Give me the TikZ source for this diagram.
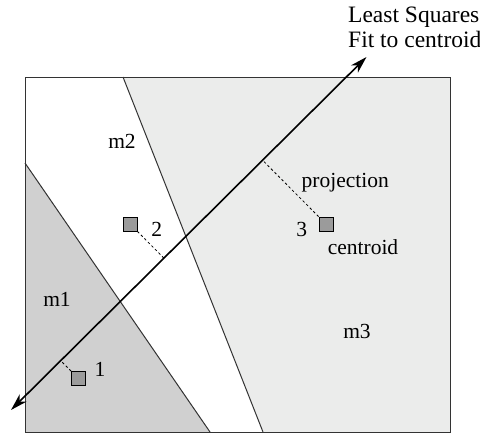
\documentclass[tikz,border=0pt]{standalone}
\usepackage{fontspec}
\setmainfont{Liberation Serif}
\usetikzlibrary{arrows.meta,calc}
\definecolor{lightreg}{RGB}{235,236,235}
\definecolor{darkreg}{RGB}{208,208,208}
\definecolor{sqfill}{RGB}{155,155,155}
\tikzset{
  lbl/.style={anchor=base, inner sep=0pt, font=\fontsize{21.5}{25}\selectfont},
  lbll/.style={anchor=base west, inner sep=0pt, font=\fontsize{21.5}{25}\selectfont},
  toplbl/.style={anchor=base west, inner sep=0pt, font=\fontsize{23.5}{25}\selectfont},
  sq/.style={draw=black, fill=sqfill, line width=0.8pt, minimum size=14pt, inner sep=0pt},
  edge/.style={draw=black!80, line width=1pt},
  proj/.style={draw=black, line width=0.8pt, dash pattern=on 2.5pt off 2.5pt},
  fit/.style={draw=black, line width=1.6pt, {Stealth[length=17pt,width=10pt,inset=5pt]}-{Stealth[length=17pt,width=10pt,inset=5pt]}}
}
\begin{document}
\begin{tikzpicture}[x=1pt,y=-1pt]
\useasboundingbox (0,0) rectangle (480,434);
% regions
\fill[lightreg] (123,77) -- (450,77) -- (450,432) -- (263,432) -- cycle;
\fill[darkreg] (25,163) -- (210,432) -- (25,432) -- cycle;
\draw[edge] (123,77) -- (263,432);
\draw[edge] (25,163) -- (210,432);
\draw[edge] (25,77) rectangle (450,432);
% fit line
\coordinate (A) at (11,410);
\coordinate (B) at (366.5,57);
\draw[fit] (A) -- (B);
% centroids
\node[sq] (s1) at (78.5,378.5) {};
\node[sq] (s2) at (130,224) {};
\node[sq] (s3) at (326,224) {};
\draw[proj] (s1.north west) -- ($(A)!(s1.north west)!(B)$);
\draw[proj] (s2.south east) -- ($(A)!(s2.south east)!(B)$);
\draw[proj] (s3.north west) -- ($(A)!(s3.north west)!(B)$);
% labels
\node[lbl] (n1) at (100,376) {1};
\node[lbl] (n2) at (156.7,236.5) {2};
\node[lbl] (n3) at (301.7,236) {3};
\node[lbll] (pr) at (301.5,187) {projection};
\node[lbl] (ce) at (363,254.5) {centroid};
\node[lbl] (m1) at (57,306) {m1};
\node[lbl] (m2) at (122,148) {m2};
\node[lbl] (m3) at (357,338) {m3};
\node[toplbl] (t1) at (348,22.7) {Least Squares};
\node[toplbl] (t2) at (348,47.7) {Fit to centroid};
\end{tikzpicture}
\end{document}
